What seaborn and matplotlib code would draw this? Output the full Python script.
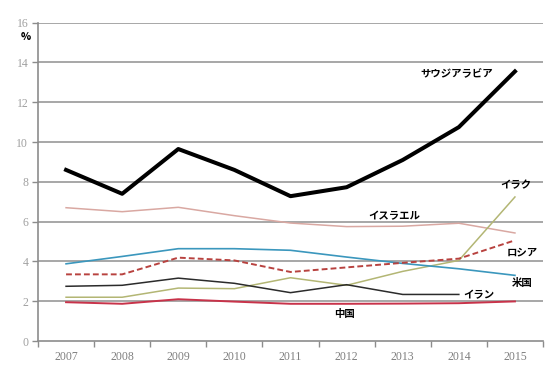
import numpy as np
import pandas as pd
import matplotlib
matplotlib.use("Agg")
import matplotlib.pyplot as plt
import seaborn as sns

years = ["2007", "2008", "2009", "2010", "2011", "2012", "2013", "2014", "2015"]

saudi = [8.6, 7.4, 9.65, 8.6, 7.28, 7.73, 9.1, 10.75, 13.55]
israel = [6.7, 6.5, 6.72, 6.3, 5.93, 5.75, 5.77, 5.92, 5.43]
usa = [3.88, 4.25, 4.64, 4.64, 4.56, 4.22, 3.9, 3.63, 3.3]
russia = [3.35, 3.35, 4.19, 4.05, 3.47, 3.7, 3.93, 4.14, 5.06]
iran = [2.75, 2.8, 3.16, 2.9, 2.43, 2.83, 2.34, 2.34, np.nan]
iraq = [2.2, 2.2, 2.66, 2.63, 3.18, 2.8, 3.5, 4.05, 7.24]
china = [1.95, 1.87, 2.1, 1.98, 1.87, 1.87, 1.88, 1.9, 1.99]

series_names = ["サウジアラビア", "イスラエル", "米国", "ロシア", "イラン", "イラク", "中国"]
series_values = [saudi, israel, usa, russia, iran, iraq, china]

styles = {
    "サウジアラビア": dict(color="#000000", lw=2.9, ls="-"),
    "イスラエル": dict(color="#d9a8a2", lw=1.1, ls="-"),
    "米国": dict(color="#3b97bd", lw=1.2, ls="-"),
    "ロシア": dict(color="#b8423f", lw=1.4, ls=(0, (3, 1.6))),
    "イラン": dict(color="#2b2b2b", lw=1.1, ls="-"),
    "イラク": dict(color="#b3b674", lw=1.1, ls="-"),
    "中国": dict(color="#c8334a", lw=1.4, ls="-"),
}

fig = plt.figure(figsize=(5.54, 3.67), dpi=100)
ax = fig.add_axes([38 / 554, 1 - 341 / 367, (543 - 38) / 554, (341 - 22.7) / 367])

grid_color = "#a0a0a0"
for v in range(2, 17, 2):
    ax.axhline(v, color=grid_color, lw=1.3, zorder=0)

# Draw order: thin lines first, Saudi Arabia on top
order = ["イスラエル", "イラク", "米国", "イラン", "中国", "ロシア", "サウジアラビア"]
x = np.arange(len(years))
for name in order:
    vals = series_values[series_names.index(name)]
    st = styles[name]
    df = pd.DataFrame({"x": x, "y": vals}).dropna()
    sns.lineplot(data=df, x="x", y="y", ax=ax, color=st["color"], lw=st["lw"],
                 linestyle=st["ls"], sort=False, zorder=3)

ax.set_xlim(-0.5, len(years) - 0.5)
ax.set_ylim(0, 16)
ax.set_yticks(range(0, 17, 2))
ax.set_yticklabels([str(v) for v in range(0, 17, 2)])
ax.set_xticks(x)
ax.set_xticklabels(years)
ax.set_xticks(np.arange(-0.5, len(years), 1), minor=True)
ax.set_xlabel("")
ax.set_ylabel("")

for s in ["top", "right"]:
    ax.spines[s].set_visible(False)
for s in ["left", "bottom"]:
    ax.spines[s].set_color("#8c8c8c")
    ax.spines[s].set_linewidth(1.2)

ax.tick_params(axis="x", which="major", length=0, pad=7, labelsize=8.5, labelcolor="#7f7f7f")
ax.tick_params(axis="x", which="minor", length=4, color="#8c8c8c", width=1)
ax.tick_params(axis="y", length=4, color="#8c8c8c", width=1, pad=3,
               labelsize=8.5, labelcolor="#a0a0a0")
for lbl in ax.get_xticklabels() + ax.get_yticklabels():
    lbl.set_family("Liberation Serif")

jp = ["Noto Sans CJK JP", "DejaVu Sans"]
label_kw = dict(family=jp, fontsize=7.5, fontweight="bold", color="#000000",
                va="center", ha="left")
fig.text(21 / 554, 1 - 37 / 367, "%", family=jp, fontsize=7.5, fontweight="heavy", va="center")

def label(xpix, ypix, txt):
    fig.text(xpix / 554, 1 - ypix / 367, txt, **label_kw)

label(420, 74, "サウジアラビア")
label(500, 185, "イラク")
label(368, 216, "イスラエル")
label(507, 252, "ロシア")
label(512, 283, "米国")
label(463, 295, "イラン")
label(334, 314, "中国")

fig.savefig("out.png", dpi=100)
